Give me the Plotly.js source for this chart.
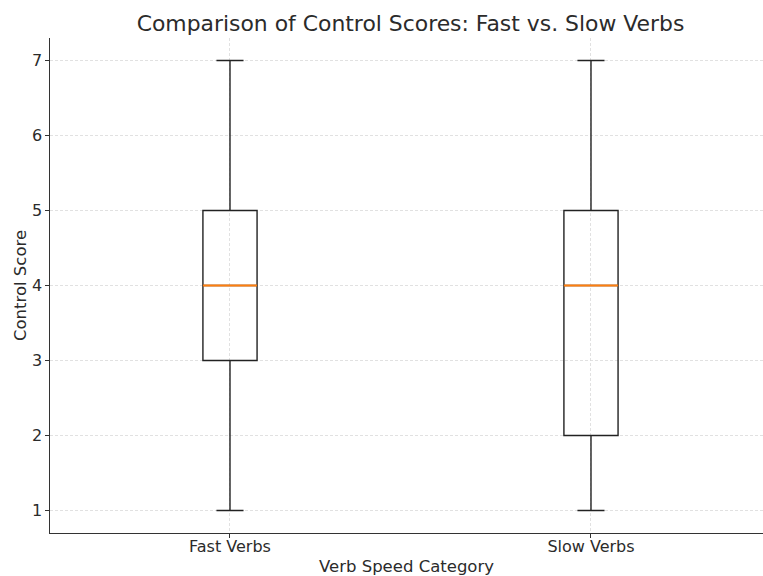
<!DOCTYPE html>
<html>
<head>
<meta charset="utf-8">
<script src="https://cdn.plot.ly/plotly-3.0.1.min.js"></script>
<style>html,body{margin:0;padding:0;background:#fff;}#chart{width:763px;height:576px;}</style>
</head>
<body>
<div id="chart"></div>
<script>
const categories = ['Fast Verbs', 'Slow Verbs'];
const minValues = [1, 1];
const q1Values = [3, 2];
const medianValues = [4, 4];
const q3Values = [5, 5];
const maxValues = [7, 7];

const positions = categories.map((c, i) => i + 1);
const boxWidth = 0.15;

const font = 'DejaVu Sans, sans-serif';
const textColor = '#2b2b2b';

const boxTrace = {
  type: 'box',
  x: positions,
  q1: q1Values,
  median: medianValues,
  q3: q3Values,
  lowerfence: minValues,
  upperfence: maxValues,
  width: boxWidth,
  whiskerwidth: 0.5,
  line: {color: '#222222', width: 1.4},
  fillcolor: 'rgba(255,255,255,0)',
  boxpoints: false,
  showlegend: false,
  hoverinfo: 'skip'
};

const medianX = [];
const medianY = [];
positions.forEach((p, i) => {
  medianX.push(p - boxWidth / 2, p + boxWidth / 2, null);
  medianY.push(medianValues[i], medianValues[i], null);
});

const medianTrace = {
  type: 'scatter',
  mode: 'lines',
  x: medianX,
  y: medianY,
  line: {color: '#ff7f0e', width: 1.9},
  showlegend: false,
  hoverinfo: 'skip'
};

const layout = {
  width: 763,
  height: 576,
  margin: {l: 50, r: 0, t: 38, b: 43},
  paper_bgcolor: '#ffffff',
  plot_bgcolor: '#ffffff',
  boxmode: 'overlay',
  font: {family: font, color: textColor, size: 16},
  title: {
    text: 'Comparison of Control Scores: Fast vs. Slow Verbs',
    font: {family: font, size: 21.9, color: textColor},
    x: 410.5 / 763, xref: 'container', xanchor: 'center',
    y: 1 - 23 / 576, yref: 'container', yanchor: 'middle'
  },
  xaxis: {
    range: [0.5014, 2.4765],
    tickvals: positions,
    ticktext: categories,
    showline: true, linecolor: '#333333', linewidth: 1.2,
    ticks: 'outside', ticklen: 3.5, tickcolor: '#333333', tickwidth: 1,
    ticklabelstandoff: -5,
    showgrid: true, gridcolor: '#d9d9d9', griddash: '3px,2px', gridwidth: 0.8,
    zeroline: false,
    tickfont: {family: font, size: 16, color: textColor},
    title: {text: 'Verb Speed Category', font: {family: font, size: 16.5, color: textColor}, standoff: 6}
  },
  yaxis: {
    range: [0.7, 7.3],
    tickvals: [1, 2, 3, 4, 5, 6, 7],
    showline: true, linecolor: '#333333', linewidth: 1.2,
    ticks: 'outside', ticklen: 3.5, tickcolor: '#333333', tickwidth: 1,
    showgrid: true, gridcolor: '#d9d9d9', griddash: '3px,2px', gridwidth: 0.8,
    zeroline: false,
    tickfont: {family: font, size: 16, color: textColor},
    title: {text: 'Control Score', font: {family: font, size: 16.5, color: textColor}, standoff: 1}
  }
};

Plotly.newPlot('chart', [boxTrace, medianTrace], layout, {displayModeBar: false, staticPlot: true});
</script>
</body>
</html>
